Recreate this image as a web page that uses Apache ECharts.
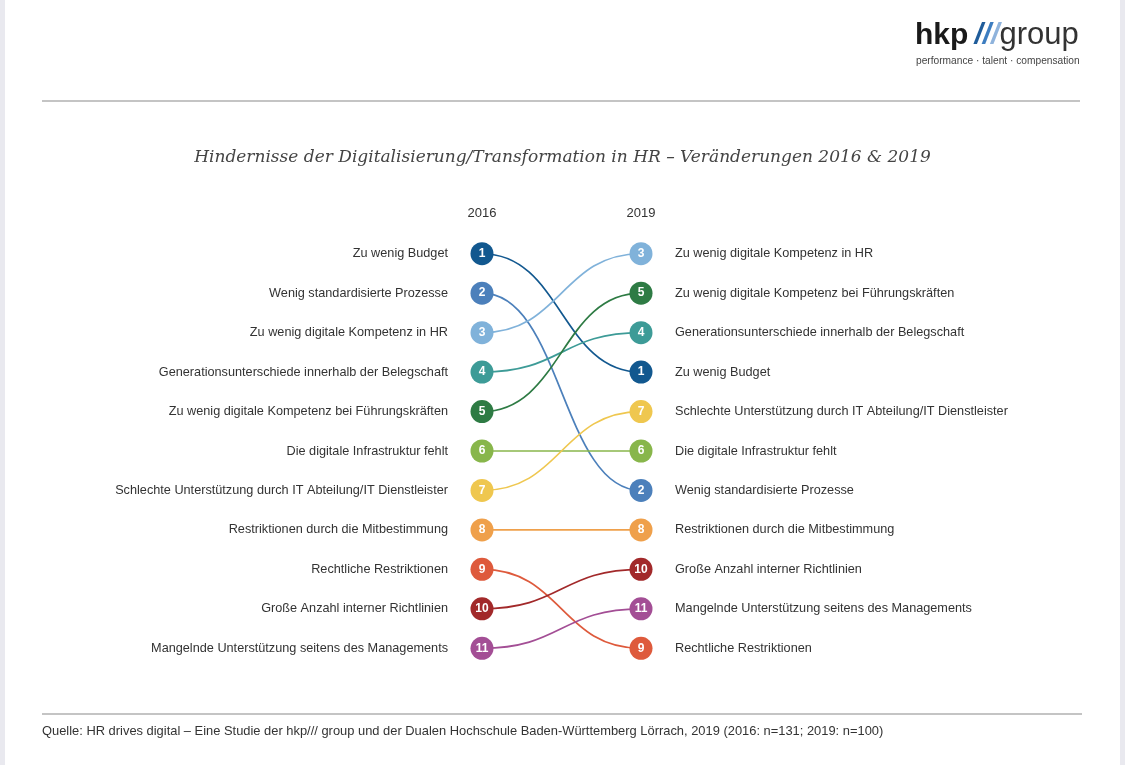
<!DOCTYPE html>
<html>
<head>
<meta charset="utf-8">
<style>
  html, body { margin: 0; padding: 0; background: #fff; }
  #main { width: 1125px; height: 765px; }
</style>
<script src="https://cdn.jsdelivr.net/npm/echarts@6/dist/echarts.min.js"></script>
</head>
<body>
<div id="main"></div>
<script>
// Hindernisse in 2016 order (rank 1..11)
const items = [
  'Zu wenig Budget',
  'Wenig standardisierte Prozesse',
  'Zu wenig digitale Kompetenz in HR',
  'Generationsunterschiede innerhalb der Belegschaft',
  'Zu wenig digitale Kompetenz bei Führungskräften',
  'Die digitale Infrastruktur fehlt',
  'Schlechte Unterstützung durch IT Abteilung/IT Dienstleister',
  'Restriktionen durch die Mitbestimmung',
  'Rechtliche Restriktionen',
  'Große Anzahl interner Richtlinien',
  'Mangelnde Unterstützung seitens des Managements'
]
const rank2016 = [1, 2, 3, 4, 5, 6, 7, 8, 9, 10, 11]
const rank2019 = [4, 7, 1, 3, 2, 6, 5, 8, 11, 9, 10]
const years = ['2016', '2019']
const colors = [
  '#12588f', '#4c80bb', '#80b2da', '#3d9b97', '#2e7b44', '#88b64b',
  '#efc74f', '#efa04b', '#de5a3c', '#a2292a', '#a34e95'
]

// right column labels: items sorted by their 2019 rank
const items2019 = items.slice()
items.forEach((name, i) => { items2019[rank2019[i] - 1] = name })

const chart = echarts.init(document.querySelector('#main'))
const font = '"Liberation Sans", Arial, sans-serif'

chart.setOption({
  backgroundColor: '#fff',
  textStyle: { fontFamily: font },
  title: {
    text: 'Hindernisse der Digitalisierung/Transformation in HR – Veränderungen 2016 & 2019',
    left: 'center',
    top: 144,
    textStyle: {
      fontFamily: '"DejaVu Serif", serif',
      fontStyle: 'italic',
      fontWeight: 'normal',
      fontSize: 17,
      color: '#444'
    }
  },
  grid: { left: 482, right: 484, top: 234, bottom: 97 },
  xAxis: {
    type: 'value',
    min: 0,
    max: 1,
    interval: 1,
    position: 'top',
    splitLine: { show: false },
    axisLine: { show: false },
    axisTick: { show: false },
    axisLabel: {
      margin: 14,
      fontSize: 13,
      color: '#333',
      formatter: v => years[v]
    }
  },
  yAxis: [
    {
      type: 'category',
      inverse: true,
      position: 'left',
      data: items,
      axisLine: { show: false },
      axisTick: { show: false },
      axisLabel: { margin: 34, fontSize: 12.7, color: '#333' }
    },
    {
      type: 'category',
      inverse: true,
      position: 'right',
      data: items2019,
      axisLine: { show: false },
      axisTick: { show: false },
      axisLabel: { margin: 34, fontSize: 12.7, color: '#333' }
    }
  ],
  series: [
    {
      // S-shaped links between the two years
      type: 'custom',
      z: 1,
      data: items.map((_, i) => [0, rank2016[i] - 1, 1, rank2019[i] - 1, i]),
      renderItem(params, api) {
        const p1 = api.coord([api.value(0), api.value(1)])
        const p2 = api.coord([api.value(2), api.value(3)])
        const mx = (p1[0] + p2[0]) / 2
        return {
          type: 'bezierCurve',
          shape: {
            x1: p1[0], y1: p1[1], x2: p2[0], y2: p2[1],
            cpx1: mx, cpy1: p1[1], cpx2: mx, cpy2: p2[1]
          },
          style: { stroke: colors[api.value(4)], lineWidth: 1.7, fill: 'none' }
        }
      }
    },
    {
      type: 'scatter',
      z: 3,
      symbol: 'circle',
      symbolSize: 23,
      data: items.flatMap((_, i) => [
        { value: [0, rank2016[i] - 1], rank: rank2016[i], itemStyle: { color: colors[i] } },
        { value: [1, rank2019[i] - 1], rank: rank2016[i], itemStyle: { color: colors[i] } }
      ]),
      itemStyle: { opacity: 1 },
      label: {
        show: true,
        position: 'inside',
        color: '#fff',
        fontSize: 12,
        fontWeight: 'bold',
        formatter: p => p.data.rank
      },
      emphasis: { disabled: true }
    }
  ],
  graphic: [
    { type: 'rect', shape: { x: 0, y: 0, width: 5, height: 765 }, style: { fill: '#e9e9ef' } },
    { type: 'rect', shape: { x: 1120, y: 0, width: 5, height: 765 }, style: { fill: '#e9e9ef' } },
    // logo
    {
      type: 'text',
      x: 915,
      y: 20,
      style: {
        text: '{a|hkp}{s| }{b1|/}{b2|/}{b3|/}{c|group}',
        rich: {
          a: { fontFamily: font, fontSize: 30, fontWeight: 'bold', fill: '#1a1a1a' },
          s: { fontFamily: font, fontSize: 22 },
          b1: { fontFamily: font, fontSize: 30, fontWeight: 'bold', fontStyle: 'italic', fill: '#1f5c9a' },
          b2: { fontFamily: font, fontSize: 30, fontWeight: 'bold', fontStyle: 'italic', fill: '#3d7dc0' },
          b3: { fontFamily: font, fontSize: 30, fontWeight: 'bold', fontStyle: 'italic', fill: '#8fb3dc' },
          c: { fontFamily: font, fontSize: 31, fontWeight: 'normal', fill: '#333' }
        }
      }
    },
    {
      type: 'text',
      x: 916,
      y: 56,
      style: {
        text: 'performance · talent · compensation',
        fontFamily: font,
        fontSize: 10.2,
        fill: '#444'
      }
    },
    { type: 'line', shape: { x1: 42, y1: 101, x2: 1080, y2: 101 }, style: { stroke: '#8a8a8a', lineWidth: 1.2 } },
    { type: 'line', shape: { x1: 42, y1: 714, x2: 1082, y2: 714 }, style: { stroke: '#8a8a8a', lineWidth: 1.2 } },
    {
      type: 'text',
      x: 42,
      y: 725,
      style: {
        text: 'Quelle: HR drives digital – Eine Studie der hkp/// group und der Dualen Hochschule Baden-Württemberg Lörrach, 2019 (2016: n=131; 2019: n=100)',
        fontFamily: font,
        fontSize: 12.9,
        fill: '#333'
      }
    }
  ]
})
</script>
</body>
</html>
